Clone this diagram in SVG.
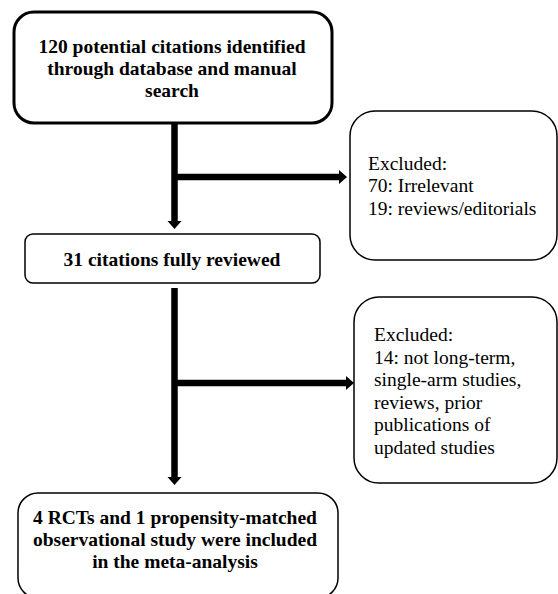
<svg xmlns="http://www.w3.org/2000/svg" width="558" height="594" viewBox="0 0 558 594">
<style>
.box{fill:#fff;stroke:#000;stroke-width:1.5}
.thick{stroke-width:3}
.ln{stroke:#000;stroke-width:6.5;fill:none}
.hd{fill:#000}
</style>
<rect width="558" height="594" fill="#fff"/>
<g id="connectors">
<line class="ln" x1="174.5" y1="123" x2="174.5" y2="222"/>
<polygon class="hd" points="167.5,221 181.5,221 174.5,229"/>
<line class="ln" x1="174.5" y1="177" x2="340" y2="177"/>
<polygon class="hd" points="339,170 347,177 339,184"/>
<line class="ln" x1="174.5" y1="288" x2="174.5" y2="478"/>
<polygon class="hd" points="167.5,477 181.5,477 174.5,485"/>
<line class="ln" x1="174.5" y1="383" x2="347" y2="383"/>
<polygon class="hd" points="346,376 354,383 346,390"/>
</g>
<g id="n1">
<rect class="box thick" x="14" y="12" width="318" height="111" rx="20"/>
<g font-family="Liberation Serif" font-weight="bold" font-size="19.5" text-anchor="middle" fill="#000">
<text x="172" y="53">120 potential citations identified</text>
<text x="172" y="75">through database and manual</text>
<text x="172" y="97">search</text>
</g>
</g>
<g id="n2">
<rect class="box" x="350" y="111" width="207" height="149" rx="25"/>
<g font-family="Liberation Serif" font-size="19.5" fill="#000">
<text x="368" y="170">Excluded:</text>
<text x="368" y="192">70: Irrelevant</text>
<text x="368" y="215">19: reviews/editorials</text>
</g>
</g>
<g id="n3">
<rect class="box" x="25" y="234" width="295" height="49" rx="8"/>
<text x="172" y="266" font-family="Liberation Serif" font-weight="bold" font-size="19.5" text-anchor="middle" fill="#000">31 citations fully reviewed</text>
</g>
<g id="n4">
<rect class="box" x="354" y="297" width="203" height="186" rx="25"/>
<g font-family="Liberation Serif" font-size="19.5" fill="#000">
<text x="374" y="341">Excluded:</text>
<text x="374" y="364">14: not long-term,</text>
<text x="374" y="386">single-arm studies,</text>
<text x="374" y="409">reviews, prior</text>
<text x="374" y="431">publications of</text>
<text x="374" y="454">updated studies</text>
</g>
</g>
<g id="n5">
<rect class="box" x="18" y="493" width="320" height="105" rx="20"/>
<g font-family="Liberation Serif" font-weight="bold" font-size="19.5" text-anchor="middle" fill="#000">
<text x="175" y="524">4 RCTs and 1 propensity-matched</text>
<text x="175" y="546">observational study were included</text>
<text x="175" y="568">in the meta-analysis</text>
</g>
</g>
</svg>
